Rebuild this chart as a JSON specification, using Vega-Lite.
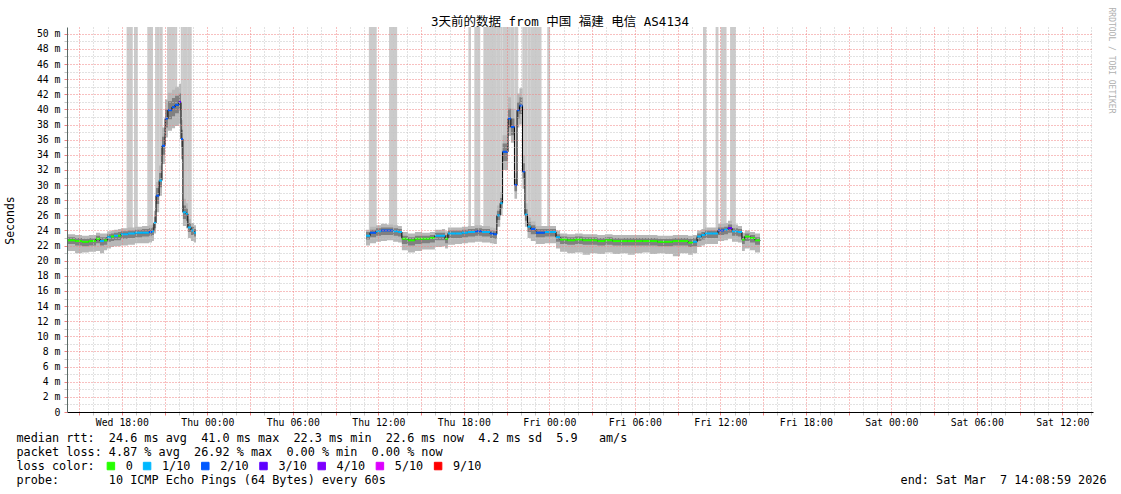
{
"$schema": "https://vega.github.io/schema/vega-lite/v6.json",
"width": 1026, "height": 385,
"autosize": {"type": "none"},
"padding": {"left": 67, "top": 27, "right": 28, "bottom": 82},
"background": "#ffffff",
"config": {"view": {"stroke": null}, "font": "DejaVu Sans Mono"},
"title": {"text": "3天前的数据 from 中国 福建 电信 AS4134", "font": "DejaVu Sans Mono, Noto Sans CJK SC", "fontSize": 12.5, "fontWeight": "normal", "color": "#000000", "anchor": "middle", "dx": -20, "dy": 33, "offset": 2, "baseline": "alphabetic"},
"datasets": {
"main": [
{"seg":1,"h":14.217,"m":22.7,"l":"0","a":21.3,"b":23.5,"c":22.2,"d":23.1},
{"seg":1,"h":14.717,"m":22.6,"l":"0","a":21.0,"b":23.4,"c":22.0,"d":23.0},
{"seg":1,"h":15.2,"m":22.5,"l":"0","a":21.1,"b":23.3,"c":21.9,"d":22.9},
{"seg":1,"h":15.683,"m":22.6,"l":"0","a":21.2,"b":23.4,"c":22.0,"d":23.0},
{"seg":1,"h":16.183,"m":22.9,"l":"0","a":21.3,"b":23.7,"c":22.3,"d":23.3},
{"seg":1,"h":16.467,"m":22.6,"l":"1/10","a":21.0,"b":23.6,"c":22.0,"d":23.1},
{"seg":1,"h":16.75,"m":22.7,"l":"0","a":21.4,"b":23.6,"c":22.1,"d":23.1},
{"seg":1,"h":16.967,"m":23.1,"l":"1/10","a":21.6,"b":23.9,"c":22.5,"d":23.5},
{"seg":1,"h":17.233,"m":23.2,"l":"0","a":21.8,"b":24.0,"c":22.6,"d":23.6},
{"seg":1,"h":17.45,"m":23.3,"l":"1/10","a":21.9,"b":24.1,"c":22.7,"d":23.7},
{"seg":1,"h":17.733,"m":23.3,"l":"0","a":21.9,"b":24.2,"c":22.7,"d":23.8},
{"seg":1,"h":17.933,"m":23.5,"l":"1/10","a":22.0,"b":24.3,"c":22.9,"d":23.9},
{"seg":1,"h":18.433,"m":23.6,"l":"1/10","a":22.1,"b":24.4,"c":23.0,"d":24.0},
{"seg":1,"h":18.917,"m":23.7,"l":"1/10","a":22.3,"b":24.5,"c":23.1,"d":24.1},
{"seg":1,"h":19.417,"m":23.7,"l":"1/10","a":22.3,"b":24.6,"c":23.2,"d":24.2},
{"seg":1,"h":19.9,"m":23.8,"l":"2/10","a":22.4,"b":24.7,"c":23.3,"d":24.3},
{"seg":1,"h":20.117,"m":23.9,"l":"1/10","a":22.6,"b":24.8,"c":23.4,"d":24.4},
{"seg":1,"h":20.25,"m":25.0,"l":"1/10","a":23.6,"b":26.6,"c":24.3,"d":25.8},
{"seg":1,"h":20.4,"m":28.6,"l":"2/10","a":26.4,"b":30.4,"c":27.5,"d":29.6},
{"seg":1,"h":20.617,"m":30.6,"l":"1/10","a":28.6,"b":32.6,"c":29.7,"d":31.6},
{"seg":1,"h":20.817,"m":35.2,"l":"2/10","a":32.8,"b":37.6,"c":34.0,"d":36.4},
{"seg":1,"h":21.033,"m":38.8,"l":"2/10","a":36.3,"b":41.3,"c":37.6,"d":40.0},
{"seg":1,"h":21.233,"m":39.9,"l":"2/10","a":37.2,"b":42.2,"c":38.7,"d":41.1},
{"seg":1,"h":21.517,"m":40.3,"l":"2/10","a":37.5,"b":42.6,"c":39.1,"d":41.5},
{"seg":1,"h":21.733,"m":40.6,"l":"2/10","a":37.8,"b":43.0,"c":39.5,"d":41.8},
{"seg":1,"h":22.0,"m":41.0,"l":"3/10","a":38.1,"b":43.4,"c":39.9,"d":42.1},
{"seg":1,"h":22.15,"m":36.1,"l":"2/10","a":33.4,"b":38.6,"c":35.0,"d":37.3},
{"seg":1,"h":22.283,"m":26.4,"l":"1/10","a":24.6,"b":28.2,"c":25.5,"d":27.3},
{"seg":1,"h":22.5,"m":26.2,"l":"1/10","a":24.3,"b":27.6,"c":25.3,"d":26.9},
{"seg":1,"h":22.633,"m":24.4,"l":"1/10","a":23.0,"b":25.5,"c":23.8,"d":25.0},
{"seg":1,"h":22.85,"m":24.0,"l":"1/10","a":22.6,"b":25.0,"c":23.4,"d":24.5},
{"seg":1,"h":23.067,"m":23.7,"l":"1/10","a":22.4,"b":24.7,"c":23.2,"d":24.2},
{"seg":1,"h":23.2,"m":23.7,"l":"1/10","a":22.4,"b":24.7,"c":23.2,"d":24.2},
{"seg":2,"h":35.133,"m":23.3,"l":"1/10","a":22.0,"b":24.1,"c":22.8,"d":23.8},
{"seg":2,"h":35.417,"m":23.7,"l":"2/10","a":22.3,"b":24.5,"c":23.1,"d":24.1},
{"seg":2,"h":35.833,"m":23.9,"l":"1/10","a":22.5,"b":24.7,"c":23.3,"d":24.3},
{"seg":2,"h":36.183,"m":24.0,"l":"2/10","a":22.6,"b":24.9,"c":23.4,"d":24.4},
{"seg":2,"h":36.6,"m":24.0,"l":"2/10","a":22.7,"b":24.8,"c":23.4,"d":24.4},
{"seg":2,"h":37.033,"m":23.9,"l":"1/10","a":22.5,"b":24.7,"c":23.3,"d":24.3},
{"seg":2,"h":37.383,"m":23.8,"l":"1/10","a":22.4,"b":24.6,"c":23.2,"d":24.2},
{"seg":2,"h":37.65,"m":22.9,"l":"0","a":21.4,"b":23.8,"c":22.2,"d":23.3},
{"seg":2,"h":38.083,"m":22.7,"l":"0","a":21.1,"b":23.6,"c":22.0,"d":23.1},
{"seg":2,"h":38.567,"m":22.9,"l":"0","a":21.3,"b":23.8,"c":22.2,"d":23.3},
{"seg":2,"h":39.067,"m":22.9,"l":"0","a":21.5,"b":23.7,"c":22.3,"d":23.3},
{"seg":2,"h":39.617,"m":23.0,"l":"0","a":21.5,"b":23.8,"c":22.4,"d":23.4},
{"seg":2,"h":39.967,"m":23.3,"l":"1/10","a":21.8,"b":24.1,"c":22.7,"d":23.7},
{"seg":2,"h":40.467,"m":23.3,"l":"1/10","a":21.9,"b":24.2,"c":22.7,"d":23.7},
{"seg":2,"h":40.683,"m":22.9,"l":"0","a":21.6,"b":23.9,"c":22.3,"d":23.4},
{"seg":2,"h":40.883,"m":23.6,"l":"1/10","a":22.1,"b":24.4,"c":23.0,"d":24.0},
{"seg":2,"h":41.383,"m":23.6,"l":"1/10","a":22.2,"b":24.4,"c":23.0,"d":24.0},
{"seg":2,"h":41.867,"m":23.7,"l":"1/10","a":22.3,"b":24.5,"c":23.1,"d":24.1},
{"seg":2,"h":42.283,"m":23.8,"l":"1/10","a":22.4,"b":24.6,"c":23.2,"d":24.2},
{"seg":2,"h":42.783,"m":23.9,"l":"2/10","a":22.5,"b":24.7,"c":23.3,"d":24.3},
{"seg":2,"h":43.267,"m":23.8,"l":"1/10","a":22.4,"b":24.6,"c":23.2,"d":24.2},
{"seg":2,"h":43.833,"m":23.6,"l":"2/10","a":22.3,"b":24.4,"c":23.0,"d":24.0},
{"seg":2,"h":44.083,"m":23.5,"l":"2/10","a":22.2,"b":24.3,"c":22.9,"d":23.9},
{"seg":2,"h":44.317,"m":26.0,"l":"1/10","a":24.5,"b":27.3,"c":25.4,"d":26.6},
{"seg":2,"h":44.55,"m":27.6,"l":"1/10","a":26.0,"b":29.1,"c":26.9,"d":28.3},
{"seg":2,"h":44.717,"m":34.4,"l":"2/10","a":32.0,"b":36.6,"c":33.2,"d":35.5},
{"seg":2,"h":45.1,"m":38.8,"l":"2/10","a":36.5,"b":41.6,"c":37.6,"d":40.1},
{"seg":2,"h":45.3,"m":37.7,"l":"2/10","a":35.6,"b":40.1,"c":36.6,"d":38.8},
{"seg":2,"h":45.55,"m":30.0,"l":"2/10","a":28.2,"b":31.6,"c":29.2,"d":30.8},
{"seg":2,"h":45.733,"m":39.9,"l":"2/10","a":37.6,"b":42.1,"c":38.8,"d":41.0},
{"seg":2,"h":45.9,"m":40.5,"l":"2/10","a":38.0,"b":42.8,"c":39.4,"d":41.6},
{"seg":2,"h":46.117,"m":31.8,"l":"2/10","a":29.5,"b":33.9,"c":30.8,"d":32.9},
{"seg":2,"h":46.283,"m":26.1,"l":"1/10","a":24.5,"b":27.6,"c":25.3,"d":26.8},
{"seg":2,"h":46.467,"m":24.5,"l":"1/10","a":23.0,"b":25.7,"c":23.8,"d":25.1},
{"seg":2,"h":46.7,"m":24.2,"l":"2/10","a":22.6,"b":25.2,"c":23.5,"d":24.7},
{"seg":2,"h":47.05,"m":23.7,"l":"2/10","a":22.2,"b":24.6,"c":23.1,"d":24.2},
{"seg":2,"h":47.683,"m":23.8,"l":"1/10","a":22.3,"b":24.6,"c":23.2,"d":24.2},
{"seg":2,"h":48.183,"m":23.8,"l":"1/10","a":22.3,"b":24.6,"c":23.2,"d":24.2},
{"seg":2,"h":48.467,"m":23.1,"l":"1/10","a":21.6,"b":24.0,"c":22.5,"d":23.5},
{"seg":2,"h":48.75,"m":22.8,"l":"0","a":21.2,"b":23.6,"c":22.2,"d":23.2},
{"seg":2,"h":49.25,"m":22.7,"l":"0","a":21.0,"b":23.5,"c":22.1,"d":23.1},
{"seg":2,"h":49.8,"m":22.8,"l":"0","a":21.1,"b":23.6,"c":22.2,"d":23.2},
{"seg":2,"h":50.333,"m":22.7,"l":"0","a":20.8,"b":23.5,"c":22.1,"d":23.1},
{"seg":2,"h":50.85,"m":22.7,"l":"0","a":21.0,"b":23.5,"c":22.1,"d":23.1},
{"seg":2,"h":51.367,"m":22.6,"l":"0","a":20.9,"b":23.4,"c":22.0,"d":23.0},
{"seg":2,"h":51.9,"m":22.7,"l":"0","a":21.1,"b":23.5,"c":22.1,"d":23.1},
{"seg":2,"h":52.433,"m":22.6,"l":"0","a":20.9,"b":23.4,"c":22.0,"d":23.0},
{"seg":2,"h":52.967,"m":22.6,"l":"0","a":21.0,"b":23.4,"c":22.0,"d":23.0},
{"seg":2,"h":53.5,"m":22.6,"l":"0","a":20.8,"b":23.4,"c":22.0,"d":23.0},
{"seg":2,"h":54.0,"m":22.6,"l":"0","a":21.0,"b":23.4,"c":22.0,"d":23.0},
{"seg":2,"h":54.533,"m":22.6,"l":"0","a":21.1,"b":23.4,"c":22.0,"d":23.0},
{"seg":2,"h":55.067,"m":22.6,"l":"0","a":20.9,"b":23.4,"c":22.0,"d":23.0},
{"seg":2,"h":55.583,"m":22.5,"l":"0","a":21.0,"b":23.3,"c":21.9,"d":22.9},
{"seg":2,"h":56.117,"m":22.5,"l":"0","a":20.9,"b":23.3,"c":21.9,"d":22.9},
{"seg":2,"h":56.667,"m":22.6,"l":"0","a":20.6,"b":23.4,"c":22.0,"d":23.0},
{"seg":2,"h":57.167,"m":22.6,"l":"0","a":21.0,"b":23.4,"c":22.0,"d":23.0},
{"seg":2,"h":57.733,"m":22.4,"l":"0","a":20.8,"b":23.3,"c":21.8,"d":22.9},
{"seg":2,"h":58.083,"m":22.5,"l":"1/10","a":21.0,"b":23.4,"c":21.9,"d":23.0},
{"seg":2,"h":58.367,"m":23.2,"l":"1/10","a":21.8,"b":24.0,"c":22.6,"d":23.6},
{"seg":2,"h":58.667,"m":23.4,"l":"1/10","a":22.0,"b":24.2,"c":22.8,"d":23.8},
{"seg":2,"h":58.917,"m":23.6,"l":"1/10","a":22.2,"b":24.4,"c":23.0,"d":24.0},
{"seg":2,"h":59.417,"m":23.6,"l":"1/10","a":22.2,"b":24.4,"c":23.0,"d":24.0},
{"seg":2,"h":59.833,"m":24.0,"l":"2/10","a":22.6,"b":24.9,"c":23.4,"d":24.4},
{"seg":2,"h":60.267,"m":24.1,"l":"1/10","a":22.7,"b":25.0,"c":23.5,"d":24.5},
{"seg":2,"h":60.533,"m":24.3,"l":"3/10","a":22.9,"b":25.3,"c":23.7,"d":24.8},
{"seg":2,"h":60.817,"m":23.9,"l":"1/10","a":22.5,"b":24.8,"c":23.3,"d":24.3},
{"seg":2,"h":61.233,"m":23.8,"l":"1/10","a":22.4,"b":24.6,"c":23.2,"d":24.2},
{"seg":2,"h":61.517,"m":22.8,"l":"0","a":21.3,"b":23.7,"c":22.2,"d":23.2},
{"seg":2,"h":61.717,"m":23.2,"l":"0","a":21.6,"b":24.0,"c":22.6,"d":23.6},
{"seg":2,"h":62.083,"m":23.0,"l":"0","a":21.4,"b":23.8,"c":22.4,"d":23.4},
{"seg":2,"h":62.433,"m":22.7,"l":"0","a":21.1,"b":23.6,"c":22.1,"d":23.1},
{"seg":2,"h":62.783,"m":22.6,"l":"0","a":21.0,"b":23.4,"c":22.0,"d":23.0}
],
"bars": [
{"h":18.333,"h2":18.767,"lo":23.6},
{"h":18.85,"h2":19.117,"lo":23.7},
{"h":19.783,"h2":20.183,"lo":23.8},
{"h":20.333,"h2":20.4,"lo":25.0},
{"h":20.4,"h2":20.617,"lo":28.6},
{"h":20.617,"h2":20.817,"lo":30.6},
{"h":20.817,"h2":20.867,"lo":35.2},
{"h":21.167,"h2":21.233,"lo":38.8},
{"h":21.233,"h2":21.517,"lo":39.9},
{"h":21.517,"h2":21.733,"lo":40.3},
{"h":21.733,"h2":21.883,"lo":40.6},
{"h":22.133,"h2":22.15,"lo":41.0},
{"h":22.15,"h2":22.283,"lo":36.1},
{"h":22.283,"h2":22.5,"lo":26.4},
{"h":22.5,"h2":22.633,"lo":26.2},
{"h":22.633,"h2":22.9,"lo":24.4},
{"h":35.333,"h2":35.883,"lo":23.7},
{"h":36.75,"h2":37.317,"lo":24.0},
{"h":42.317,"h2":42.5,"lo":23.8},
{"h":42.733,"h2":43.15,"lo":23.9},
{"h":43.367,"h2":44.317,"lo":23.6},
{"h":44.317,"h2":44.55,"lo":26.0},
{"h":44.55,"h2":44.717,"lo":27.6},
{"h":44.717,"h2":45.1,"lo":34.4},
{"h":45.1,"h2":45.3,"lo":38.8},
{"h":45.3,"h2":45.55,"lo":37.7},
{"h":45.55,"h2":45.733,"lo":30.0},
{"h":45.733,"h2":45.817,"lo":39.9},
{"h":46.067,"h2":46.117,"lo":40.5},
{"h":46.117,"h2":46.283,"lo":31.8},
{"h":46.283,"h2":46.467,"lo":26.1},
{"h":46.467,"h2":46.7,"lo":24.5},
{"h":46.7,"h2":47.45,"lo":24.2},
{"h":47.85,"h2":48.05,"lo":23.8},
{"h":58.783,"h2":59.017,"lo":23.6},
{"h":59.667,"h2":59.867,"lo":23.6},
{"h":60.017,"h2":60.433,"lo":24.0},
{"h":60.683,"h2":61.083,"lo":24.0}
]
},
"encoding": {
 "x": {"field": "h", "type": "quantitative", "scale": {"domain": [14.15, 86.15], "nice": false, "zero": false}, "axis": null}
},
"layer": [
{"data": {"name": "bars"},
 "mark": {"type": "rect", "color": "#cbcbcb"},
 "encoding": {
  "x": {"field": "h", "type": "quantitative", "scale": {"domain": [14.15, 86.15], "nice": false, "zero": false},
   "axis": {"orient": "bottom", "labels": false, "ticks": false, "domain": false, "grid": false,
    "title": "packet\u00a0loss:\u00a04.87\u00a0%\u00a0avg\u00a0\u00a026.92\u00a0%\u00a0max\u00a0\u00a00.00\u00a0%\u00a0min\u00a0\u00a00.00\u00a0%\u00a0now",
    "titleFont": "DejaVu Sans Mono", "titleFontSize": 11.8, "titleFontWeight": "normal", "titleColor": "#000000",
    "titleX": -51, "titleY": 34, "titleAlign": "left", "titleBaseline": "top"}},
  "x2": {"field": "h2"},
  "y": {"field": "lo", "type": "quantitative", "scale": {"domain": [0, 50.9], "nice": false, "zero": false},
   "axis": {
    "values": [0,1,2,3,4,5,6,7,8,9,10,11,12,13,14,15,16,17,18,19,20,21,22,23,24,25,26,27,28,29,30,31,32,33,34,35,36,37,38,39,40,41,42,43,44,45,46,47,48,49,50],
    "grid": true, "gridDash": [1, 2],
    "gridColor": {"condition": {"test": "datum.value % 2 == 0", "value": "#f08080"}, "value": "#c4c4c4"},
    "tickSize": 3,
    "tickColor": {"condition": {"test": "datum.value % 2 == 0", "value": "#f08080"}, "value": "#c4c4c4"},
    "labelExpr": "datum.value % 2 == 1 ? '' : (datum.value == 0 ? '0\u00a0\u00a0' : datum.value + '\u00a0m')",
    "labelOverlap": false, "labelFont": "DejaVu Sans Mono", "labelFontSize": 9.8, "labelColor": "#000000", "labelPadding": 4,
    "domainColor": "#5a6a66",
    "title": "Seconds", "titleFont": "DejaVu Sans Mono", "titleFontSize": 11.5, "titleFontWeight": "normal", "titleColor": "#000000",
    "titleX": -57, "titleY": 193, "titleAngle": -90, "titleAlign": "center", "titleBaseline": "middle",
    "zindex": 1
   }},
  "y2": {"datum": 50.9}
 }},
{"data": {"name": "main"},
 "mark": {"type": "area", "interpolate": "step-after", "color": "#b8b8b8", "opacity": 1},
 "encoding": {
  "x": {"field": "h", "type": "quantitative", "scale": {"domain": [14.15, 86.15], "nice": false, "zero": false},
   "axis": {"orient": "bottom", "labels": false, "ticks": false, "domain": false, "grid": false,
    "title": "loss\u00a0color:",
    "titleFont": "DejaVu Sans Mono", "titleFontSize": 11.8, "titleFontWeight": "normal", "titleColor": "#000000",
    "titleX": -51, "titleY": 48, "titleAlign": "left", "titleBaseline": "top"}},
  "y": {"field": "a", "type": "quantitative", "scale": {"domain": [0, 50.9], "nice": false, "zero": false}, "axis": null},
  "y2": {"field": "b"},
  "detail": {"field": "seg"}
 }},
{"data": {"name": "main"},
 "mark": {"type": "area", "interpolate": "step-after", "color": "#808080", "opacity": 1},
 "encoding": {
  "x": {"field": "h", "type": "quantitative", "scale": {"domain": [14.15, 86.15], "nice": false, "zero": false},
   "axis": {"orient": "bottom", "labels": false, "ticks": false, "domain": false, "grid": false,
    "title": "probe:\u00a0\u00a0\u00a0\u00a0\u00a0\u00a0\u00a010\u00a0ICMP\u00a0Echo\u00a0Pings\u00a0(64\u00a0Bytes)\u00a0every\u00a060s",
    "titleFont": "DejaVu Sans Mono", "titleFontSize": 11.8, "titleFontWeight": "normal", "titleColor": "#000000",
    "titleX": -51, "titleY": 62, "titleAlign": "left", "titleBaseline": "top"}},
  "y": {"field": "c", "type": "quantitative", "scale": {"domain": [0, 50.9], "nice": false, "zero": false}, "axis": null},
  "y2": {"field": "d"},
  "detail": {"field": "seg"}
 }},
{"data": {"name": "main"},
 "mark": {"type": "line", "interpolate": "step-after", "color": "#000000", "strokeWidth": 1},
 "encoding": {
  "x": {"field": "h", "type": "quantitative", "scale": {"domain": [14.15, 86.15], "nice": false, "zero": false},
   "axis": {
    "orient": "bottom",
    "values": [15,16,17,18,19,20,21,22,23,24,25,26,27,28,29,30,31,32,33,34,35,36,37,38,39,40,41,42,43,44,45,46,47,48,49,50,51,52,53,54,55,56,57,58,59,60,61,62,63,64,65,66,67,68,69,70,71,72,73,74,75,76,77,78,79,80,81,82,83,84,85,86],
    "grid": true, "gridDash": [1, 2], "gridWidth": 1,
    "gridColor": {"condition": {"test": "datum.value % 3 == 0", "value": "#f08080"}, "value": "#c4c4c4"},
    "ticks": true, "tickSize": 3,
    "tickColor": {"condition": {"test": "datum.value % 3 == 0", "value": "#f08080"}, "value": "#c4c4c4"},
    "labelExpr": "datum.value % 6 == 0 ? (['Wed','Thu','Fri','Sat'][floor(datum.value / 24)] + ' ' + (datum.value % 24 < 10 ? '0' : '') + (datum.value % 24) + ':00') : ''",
    "labelOverlap": false, "labelFlush": false, "labelFont": "DejaVu Sans Mono", "labelFontSize": 9.8, "labelColor": "#000000", "labelPadding": 2,
    "domainColor": "#000000",
    "zindex": 1,
    "title": "median\u00a0rtt:\u00a0\u00a024.6\u00a0ms\u00a0avg\u00a0\u00a041.0\u00a0ms\u00a0max\u00a0\u00a022.3\u00a0ms\u00a0min\u00a0\u00a022.6\u00a0ms\u00a0now\u00a0\u00a04.2\u00a0ms\u00a0sd\u00a0\u00a05.9\u00a0\u00a0\u00a0am/s",
    "titleFont": "DejaVu Sans Mono", "titleFontSize": 11.8, "titleFontWeight": "normal", "titleColor": "#000000",
    "titleX": -51, "titleY": 20, "titleAlign": "left", "titleBaseline": "top"
   }},
  "y": {"field": "m", "type": "quantitative", "scale": {"domain": [0, 50.9], "nice": false, "zero": false},
   "axis": {"orient": "right", "labels": false, "ticks": false, "domain": false, "grid": false,
    "title": "RRDTOOL / TOBI OETIKER", "titleFont": "DejaVu Sans Mono", "titleFontSize": 8, "titleFontWeight": "normal", "titleColor": "#b0b0b0",
    "titleAngle": 90, "titleX": 17, "titleY": 33, "titleAlign": "center", "titleBaseline": "middle"}},
  "detail": {"field": "seg"}
 }},
{"data": {"name": "main"},
 "transform": [{"window": [{"op": "lead", "field": "h", "as": "h2"}], "groupby": ["seg"], "sort": [{"field": "h", "order": "ascending"}]}],
 "mark": {"type": "rule", "strokeWidth": 2, "strokeCap": "butt"},
 "encoding": {
  "x": {"field": "h", "type": "quantitative", "scale": {"domain": [14.15, 86.15], "nice": false, "zero": false},
   "axis": {"orient": "bottom", "labels": false, "ticks": false, "domain": false, "grid": false,
    "title": "end:\u00a0Sat\u00a0Mar\u00a0\u00a07\u00a014:08:59\u00a02026",
    "titleFont": "DejaVu Sans Mono", "titleFontSize": 11.8, "titleFontWeight": "normal", "titleColor": "#000000",
    "titleX": 1039, "titleY": 62, "titleAlign": "right", "titleBaseline": "top"}},
  "x2": {"field": "h2"},
  "y": {"field": "m", "type": "quantitative", "scale": {"domain": [0, 50.9], "nice": false, "zero": false}, "axis": null},
  "color": {"field": "l", "type": "nominal",
   "scale": {"domain": ["0", "1/10", "2/10", "3/10", "4/10", "5/10", "9/10"], "range": ["#26ff00", "#00b8ff", "#0059ff", "#5e00ff", "#7e00ff", "#dd00ff", "#ff0000"]},
   "legend": {"orient": "none", "legendX": 38, "legendY": 433, "direction": "horizontal", "title": null,
    "symbolType": "square", "symbolSize": 56, "symbolStrokeColor": "#000000", "symbolStrokeWidth": 1,
    "labelFont": "DejaVu Sans Mono", "labelFontSize": 11.8, "labelColor": "#000000", "labelOffset": 9, "columnPadding": 8.2, "padding": 0,
    "encode": {"symbols": {"update": {"fill": {"scale": "color", "field": "value"}, "fillOpacity": {"value": 1}, "stroke": {"value": "#000000"}, "strokeWidth": {"value": 1}, "opacity": {"value": 1}}}}}
  }
 }}
],
"resolve": {"axis": {"x": "independent", "y": "independent"}}
}
